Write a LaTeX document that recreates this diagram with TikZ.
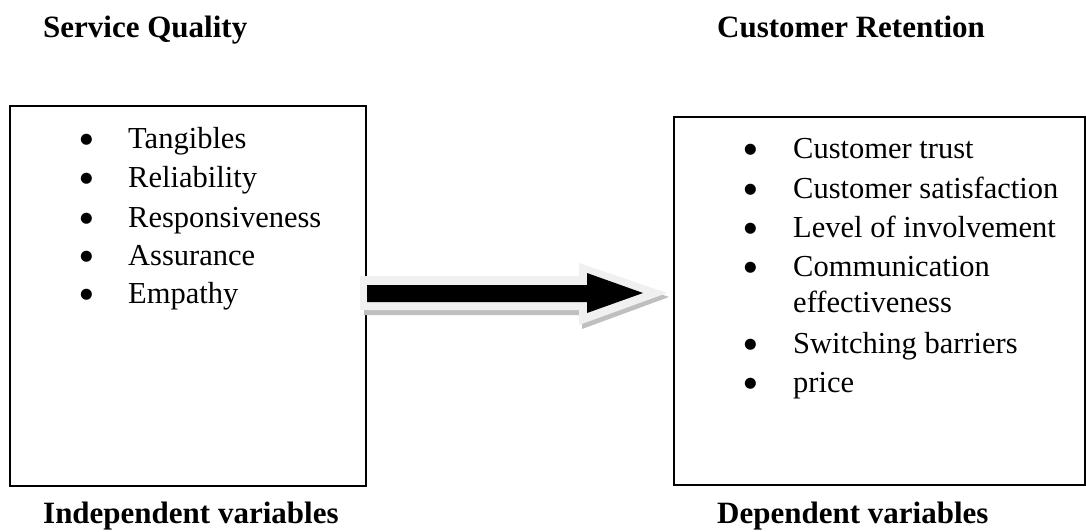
\documentclass[tikz,border=0pt]{standalone}
\usepackage{fontspec}
\setmainfont{Liberation Serif}
\newfontfamily\bulfont{DejaVu Sans}
\begin{document}
\begin{tikzpicture}[x=1pt,y=-1pt,
  box/.style={draw=black,line width=1.3pt,fill=white},
  title/.style={anchor=base west,inner sep=0pt,font=\fontsize{31}{36}\selectfont\bfseries},
  item/.style={anchor=base west,inner sep=0pt,font=\fontsize{30.5}{36}\selectfont},
  bul/.style={anchor=base west,inner sep=0pt,font=\bulfont\fontsize{14.5}{16}\selectfont}]
\useasboundingbox (0,0) rectangle (1086,531);
% boxes
\draw[box] (10,106) rectangle (366,486);
\draw[box] (674,117) rectangle (1085,485);
% titles
\node[title] (t1) at (43,37) {Service Quality};
\node[title] (t2) at (717,37) {Customer Retention};
\node[title] (t3) at (43,523) {Independent variables};
\node[title] (t4) at (717,523) {Dependent variables};
% left list
\foreach \y/\t [count=\i] in {148/Tangibles,187/Reliability,227/Responsiveness,265/Assurance,303/Empathy}{
  \node[bul] (lb\i) at (80,\y-5) {●};
  \node[item] (li\i) at (128,\y) {\t};
}
% right list
\foreach \y/\t [count=\i] in {158/Customer trust,198/Customer satisfaction,237/Level of involvement,276/Communication,353/Switching barriers,392/price}{
  \node[bul] (rb\i) at (744,\y-5) {●};
  \node[item] (ri\i) at (793,\y) {\t};
}
\node[item] (ri7) at (793,312) {effectiveness};
% block arrow: shadow, light outline, black body
\fill[black!25] (364,281) -- (582,281) -- (582,267) -- (669,297) -- (582,329) -- (582,315) -- (364,315) -- cycle;
\fill[black!6] (360,276) -- (579,276) -- (579,263) -- (667,293) -- (579,325) -- (579,310) -- (360,310) -- cycle;
\fill[black] (367,285) -- (587,285) -- (587,273) -- (643,293) -- (587,313) -- (587,302) -- (367,302) -- cycle;
\end{tikzpicture}
\end{document}
